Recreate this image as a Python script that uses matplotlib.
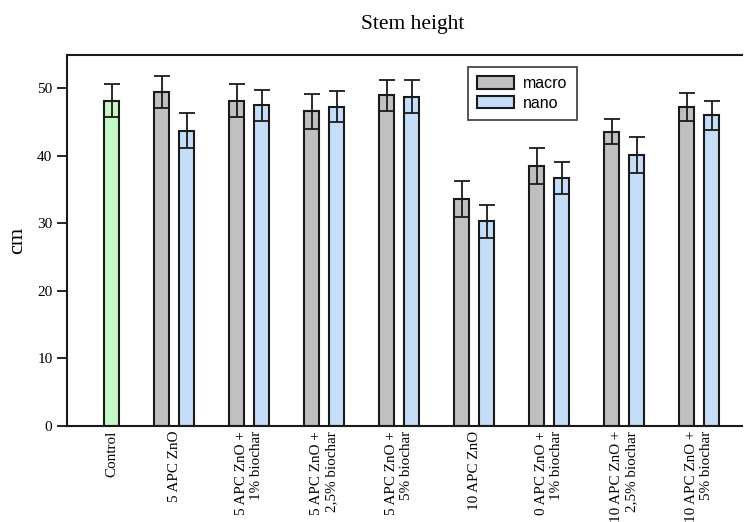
import numpy as np
import matplotlib.pyplot as plt

# Stem height, mean +/- error (cm)
labels = ["Control", "5 APC ZnO", "5 APC ZnO +\n1% biochar", "5 APC ZnO +\n2,5% biochar",
          "5 APC ZnO +\n5% biochar", "10 APC ZnO", "0 APC ZnO +\n1% biochar",
          "10 APC ZnO +\n2,5% biochar", "10 APC ZnO +\n5% biochar"]
control_mean = [48.2]
control_err = [2.5]
macro_mean = [49.5, 48.2, 46.6, 49.0, 33.6, 38.5, 43.6, 47.2]
macro_err = [2.4, 2.4, 2.6, 2.3, 2.7, 2.7, 1.9, 2.1]
nano_mean = [43.7, 47.5, 47.3, 48.8, 30.3, 36.7, 40.1, 46.0]
nano_err = [2.6, 2.3, 2.3, 2.4, 2.4, 2.4, 2.7, 2.2]

plt.rcParams['font.family'] = ['Liberation Serif', 'DejaVu Serif']

fig = plt.figure(figsize=(7.47, 5.22), dpi=100)
ax = fig.add_axes([0.0897, 0.184, 0.9033, 0.7113])

w = 0.2
off = 0.167
groups = np.arange(1, len(macro_mean) + 1)
edge = '#1a1a1a'
ekw = dict(ecolor=edge, elinewidth=1.3, capsize=5.5, capthick=1.3, fmt='none')

ax.bar([off], control_mean, w, color='#c6f7c6', edgecolor=edge, linewidth=1.5)
ax.errorbar([off], control_mean, yerr=control_err, **ekw)
b1 = ax.bar(groups - off, macro_mean, w, color='#c0c0c0', edgecolor=edge, linewidth=1.5, label='macro')
ax.errorbar(groups - off, macro_mean, yerr=macro_err, **ekw)
b2 = ax.bar(groups + off, nano_mean, w, color='#c6ddf8', edgecolor=edge, linewidth=1.5, label='nano')
ax.errorbar(groups + off, nano_mean, yerr=nano_err, **ekw)

ax.set_xlim(-0.43, 8.57)
ax.set_ylim(0, 55)
ax.set_yticks([0, 10, 20, 30, 40, 50])
ax.tick_params(axis='y', direction='out', length=7, width=1.2, labelsize=11)

ax.set_xticks(np.concatenate([[off], groups]))
ax.set_xticklabels(labels, rotation=90, fontsize=10.9, linespacing=1.15,
                   multialignment='right')
ax.tick_params(axis='x', length=0, pad=3.5)

ax.spines['right'].set_visible(False)
for s in ['left', 'bottom', 'top']:
    ax.spines[s].set_linewidth(1.5)
    ax.spines[s].set_color('#1a1a1a')

ax.set_ylabel('cm', fontsize=16, labelpad=7)
fig.text(0.552, 0.953, 'Stem height', ha='center', va='center', fontsize=15.5)

leg = ax.legend(handles=[b1, b2], loc='upper left', bbox_to_anchor=(0.594, 0.968),
                prop={'family': 'Liberation Sans', 'size': 11.5}, frameon=True, fancybox=False,
                handlelength=2.3, handleheight=0.8, borderpad=0.6, labelspacing=0.3,
                handletextpad=0.55, borderaxespad=0)
leg.get_frame().set_edgecolor('#1a1a1a')
leg.get_frame().set_linewidth(1.3)

fig.savefig('out.png', dpi=100)
